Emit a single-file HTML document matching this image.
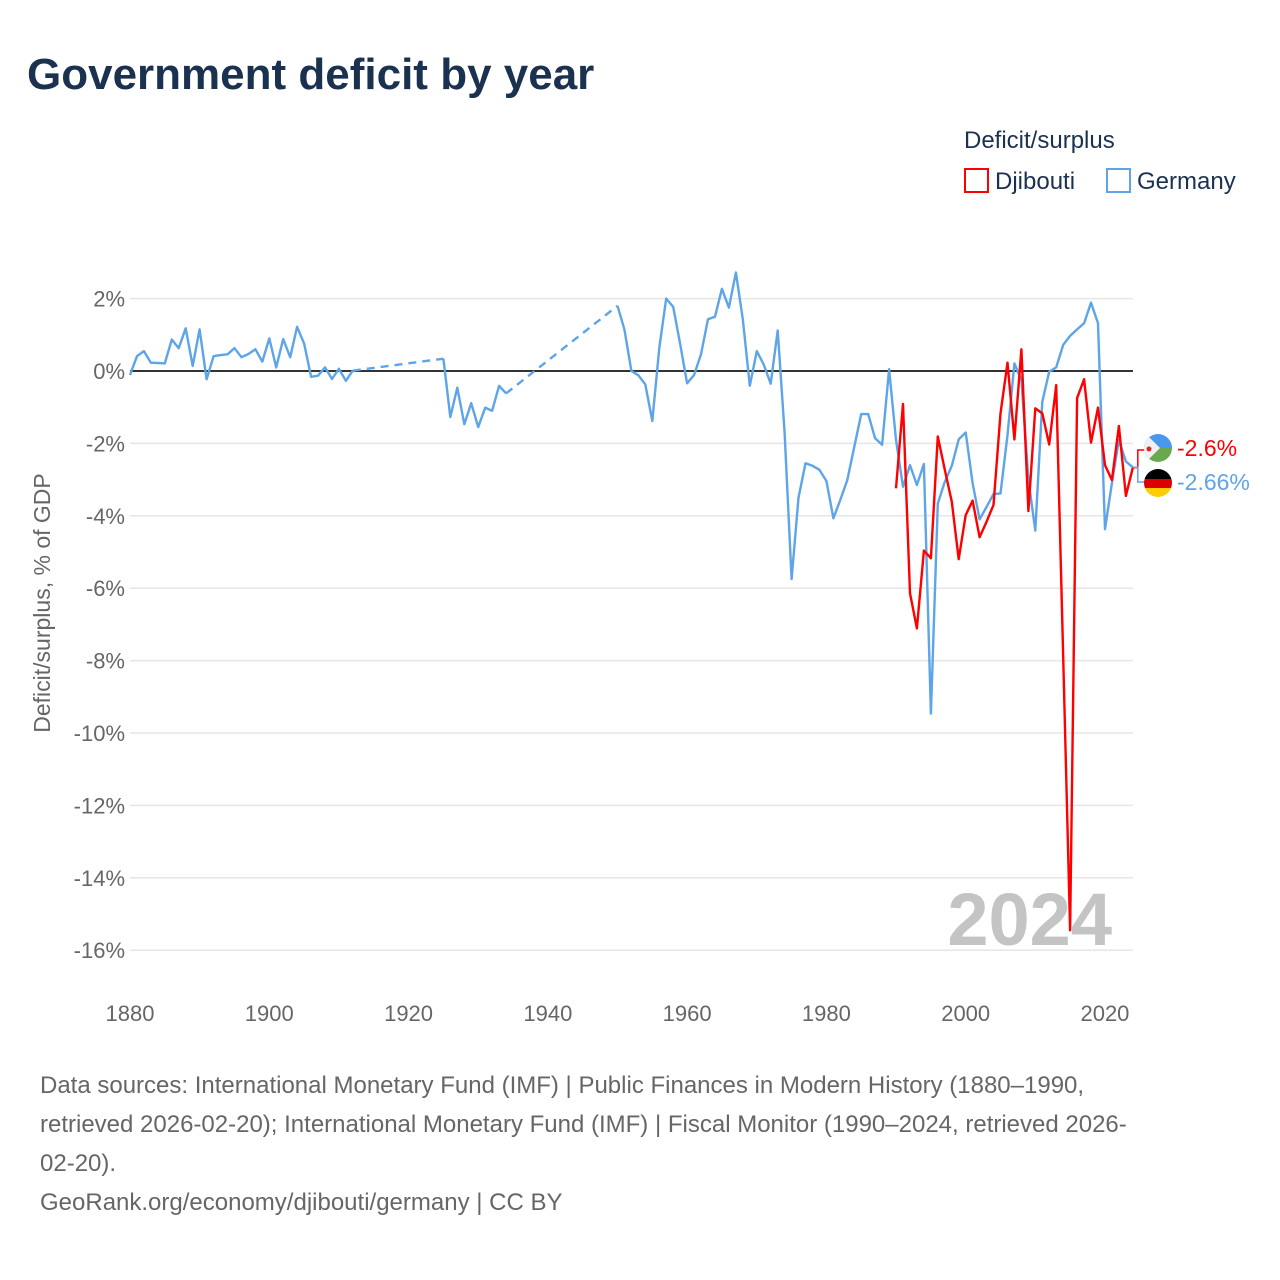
<!DOCTYPE html>
<html><head><meta charset="utf-8"><style>
body{margin:0;background:#fff;font-family:"Liberation Sans",sans-serif;}
#wrap{position:relative;width:1280px;height:1280px;overflow:hidden;}
.title{position:absolute;left:27px;top:50px;font-size:44px;font-weight:bold;color:#1b3150;margin:0}
.foot{position:absolute;left:40px;top:1066px;width:1230px;font-size:24px;line-height:39px;color:#666;white-space:nowrap}
</style></head><body><div id="wrap">
<h1 class="title">Government deficit by year</h1>
<svg id="chart" width="1280" height="1280" style="position:absolute;left:0;top:0"></svg>
<div class="foot">Data sources: International Monetary Fund (IMF) | Public Finances in Modern History (1880–1990,<br>retrieved 2026-02-20); International Monetary Fund (IMF) | Fiscal Monitor (1990–2024, retrieved 2026-<br>02-20).<br>GeoRank.org/economy/djibouti/germany | CC BY</div>
</div>
<script>
const gerYears=[1880,1881,1882,1883,1884,1885,1886,1887,1888,1889,1890,1891,1892,1893,1894,1895,1896,1897,1898,1899,1900,1901,1902,1903,1904,1905,1906,1907,1908,1909,1910,1911,1912,1925,1926,1927,1928,1929,1930,1931,1932,1933,1934,1950,1951,1952,1953,1954,1955,1956,1957,1958,1959,1960,1961,1962,1963,1964,1965,1966,1967,1968,1969,1970,1971,1972,1973,1974,1975,1976,1977,1978,1979,1980,1981,1982,1983,1984,1985,1986,1987,1988,1989,1990,1991,1992,1993,1994,1995,1996,1997,1998,1999,2000,2001,2002,2003,2004,2005,2006,2007,2008,2009,2010,2011,2012,2013,2014,2015,2016,2017,2018,2019,2020,2021,2022,2023,2024];
const gerValues=[-0.11,0.41,0.55,0.23,0.22,0.21,0.87,0.63,1.18,0.14,1.15,-0.23,0.41,0.44,0.46,0.63,0.38,0.47,0.6,0.26,0.9,0.1,0.88,0.38,1.22,0.76,-0.16,-0.13,0.1,-0.22,0.06,-0.27,0.01,0.34,-1.27,-0.46,-1.47,-0.89,-1.55,-1.01,-1.1,-0.41,-0.62,1.8,1.15,0,-0.12,-0.37,-1.38,0.64,2.0,1.77,0.74,-0.34,-0.11,0.46,1.43,1.5,2.27,1.75,2.72,1.43,-0.41,0.55,0.18,-0.35,1.12,-1.7,-5.75,-3.5,-2.55,-2.62,-2.73,-3.04,-4.07,-3.56,-3.01,-2.09,-1.19,-1.19,-1.86,-2.04,0.05,-1.9,-3.2,-2.6,-3.15,-2.57,-9.46,-3.66,-3.06,-2.62,-1.89,-1.7,-3.1,-4.1,-3.75,-3.4,-3.38,-1.77,0.21,-0.25,-3.0,-4.41,-0.85,-0.02,0.1,0.72,0.97,1.15,1.32,1.89,1.32,-4.37,-3.1,-1.91,-2.5,-2.66];
const djiYears=[1990,1991,1992,1993,1994,1995,1996,1997,1998,1999,2000,2001,2002,2003,2004,2005,2006,2007,2008,2009,2010,2011,2012,2013,2014,2015,2016,2017,2018,2019,2020,2021,2022,2023,2024];
const djiValues=[-3.24,-0.91,-6.14,-7.11,-4.96,-5.17,-1.81,-2.73,-3.61,-5.2,-3.98,-3.58,-4.59,-4.16,-3.7,-1.17,0.23,-1.89,0.6,-3.87,-1.03,-1.17,-2.03,-0.39,-7.9,-15.45,-0.75,-0.23,-1.98,-1.01,-2.6,-3.01,-1.52,-3.45,-2.67];
const yTicks=[2,0,-2,-4,-6,-8,-10,-12,-14,-16];
const xTicks=[1880,1900,1920,1940,1960,1980,2000,2020];
const X0=130,X1=1133;
const xs=y=>130+(y-1880)*6.964;
const ys=v=>371-v*36.2;
const NS="http://www.w3.org/2000/svg";
const svg=document.getElementById('chart');
function mk(tag,attrs,parent){const e=document.createElementNS(NS,tag);for(const k in attrs)e.setAttribute(k,attrs[k]);(parent||svg).appendChild(e);return e;}
yTicks.forEach(t=>{
  const l=mk('line',{x1:X0,x2:X1,y1:ys(t),y2:ys(t),stroke:t===0?'#333':'#e6e6e6','stroke-width':t===0?2:1.5});
  
  
  const tx=mk('text',{x:125,y:ys(t)+8,'text-anchor':'end','font-size':22,fill:'#666'});
  tx.textContent=t+'%';
  
  
});
xTicks.forEach(t=>{
  const tx=mk('text',{x:xs(t),y:1021,'text-anchor':'middle','font-size':22,fill:'#666'});
  tx.textContent=t;
  
  
});
const yt=mk('text',{x:0,y:0,transform:'translate(50,603) rotate(-90)','text-anchor':'middle','font-size':23,fill:'#666'});
yt.textContent='Deficit/surplus, % of GDP';


const wm=mk('text',{x:1112,y:945,'text-anchor':'end','font-size':74,'font-weight':'bold',fill:'#c4c4c4'});
wm.textContent='2024';


function drawSeries(years,vals,color,name){
  let d='';
  for(let i=0;i<years.length;i++){
    const gap=i>0&&years[i]-years[i-1]>1;
    if(gap){
      const dl=mk('line',{x1:xs(years[i-1]),y1:ys(vals[i-1]),x2:xs(years[i]),y2:ys(vals[i]),stroke:color,'stroke-width':2.4,'stroke-dasharray':'8,6'});
      
      
    }
    d+=(i===0||gap?'M':'L')+xs(years[i]).toFixed(1)+','+ys(vals[i]).toFixed(1);
  }
  const p=mk('path',{d:d,fill:'none',stroke:color,'stroke-width':2.4,'stroke-linejoin':'round'});
  
  
}
drawSeries(gerYears,gerValues,'#5da5e8','germany');
drawSeries(djiYears,djiValues,'#ff0000','djibouti');
const lx=xs(2024);
const c1=mk('path',{d:`M${lx},${ys(djiValues[djiValues.length-1])} L${lx+5},${ys(djiValues[djiValues.length-1])} L${lx+5},450 L${lx+12},450`,fill:'none',stroke:'#ff0000','stroke-width':1.5});


const c2=mk('path',{d:`M${lx},${ys(gerValues[gerValues.length-1])} L${lx+5},${ys(gerValues[gerValues.length-1])} L${lx+5},482 L${lx+12},482`,fill:'none',stroke:'#5da5e8','stroke-width':1.5});


const g1=mk('g',{});


mk('defs',{},g1).innerHTML='<clipPath id="cf1"><circle cx="1158" cy="448" r="14"/></clipPath><clipPath id="cf2"><circle cx="1158" cy="483" r="14"/></clipPath>';
mk('rect',{x:1144,y:434,width:28,height:14,fill:'#4a97ee','clip-path':'url(#cf1)'},g1);
mk('rect',{x:1144,y:448,width:28,height:14,fill:'#6aa84f','clip-path':'url(#cf1)'},g1);
mk('path',{d:'M1144,432 L1160,448 L1144,464 Z',fill:'#f0f0f0','clip-path':'url(#cf1)'},g1);
mk('circle',{cx:1149,cy:449,r:2.5,fill:'#d52b1e'},g1);
const g2=mk('g',{});


mk('rect',{x:1144,y:469,width:28,height:10,fill:'#000','clip-path':'url(#cf2)'},g2);
mk('rect',{x:1144,y:479,width:28,height:9,fill:'#dd0000','clip-path':'url(#cf2)'},g2);
mk('rect',{x:1144,y:488,width:28,height:10,fill:'#ffce00','clip-path':'url(#cf2)'},g2);
const l1=mk('text',{x:1177,y:456,'font-size':23,fill:'#ff0000'});
l1.textContent='-2.6%';


const l2=mk('text',{x:1177,y:490,'font-size':23,fill:'#5da5e8'});
l2.textContent='-2.66%';


const lt=mk('text',{x:964,y:148,'font-size':24,fill:'#1b3150'});
lt.textContent='Deficit/surplus';


const lb1=mk('rect',{x:965,y:169,width:23,height:23,fill:'#fff',stroke:'#ff0000','stroke-width':2});


const le1=mk('text',{x:995,y:189,'font-size':24,fill:'#1b3150'});
le1.textContent='Djibouti';


const lb2=mk('rect',{x:1107,y:169,width:23,height:23,fill:'#fff',stroke:'#5da5e8','stroke-width':2});


const le2=mk('text',{x:1137,y:189,'font-size':24,fill:'#1b3150'});
le2.textContent='Germany';


</script>
</body></html>
